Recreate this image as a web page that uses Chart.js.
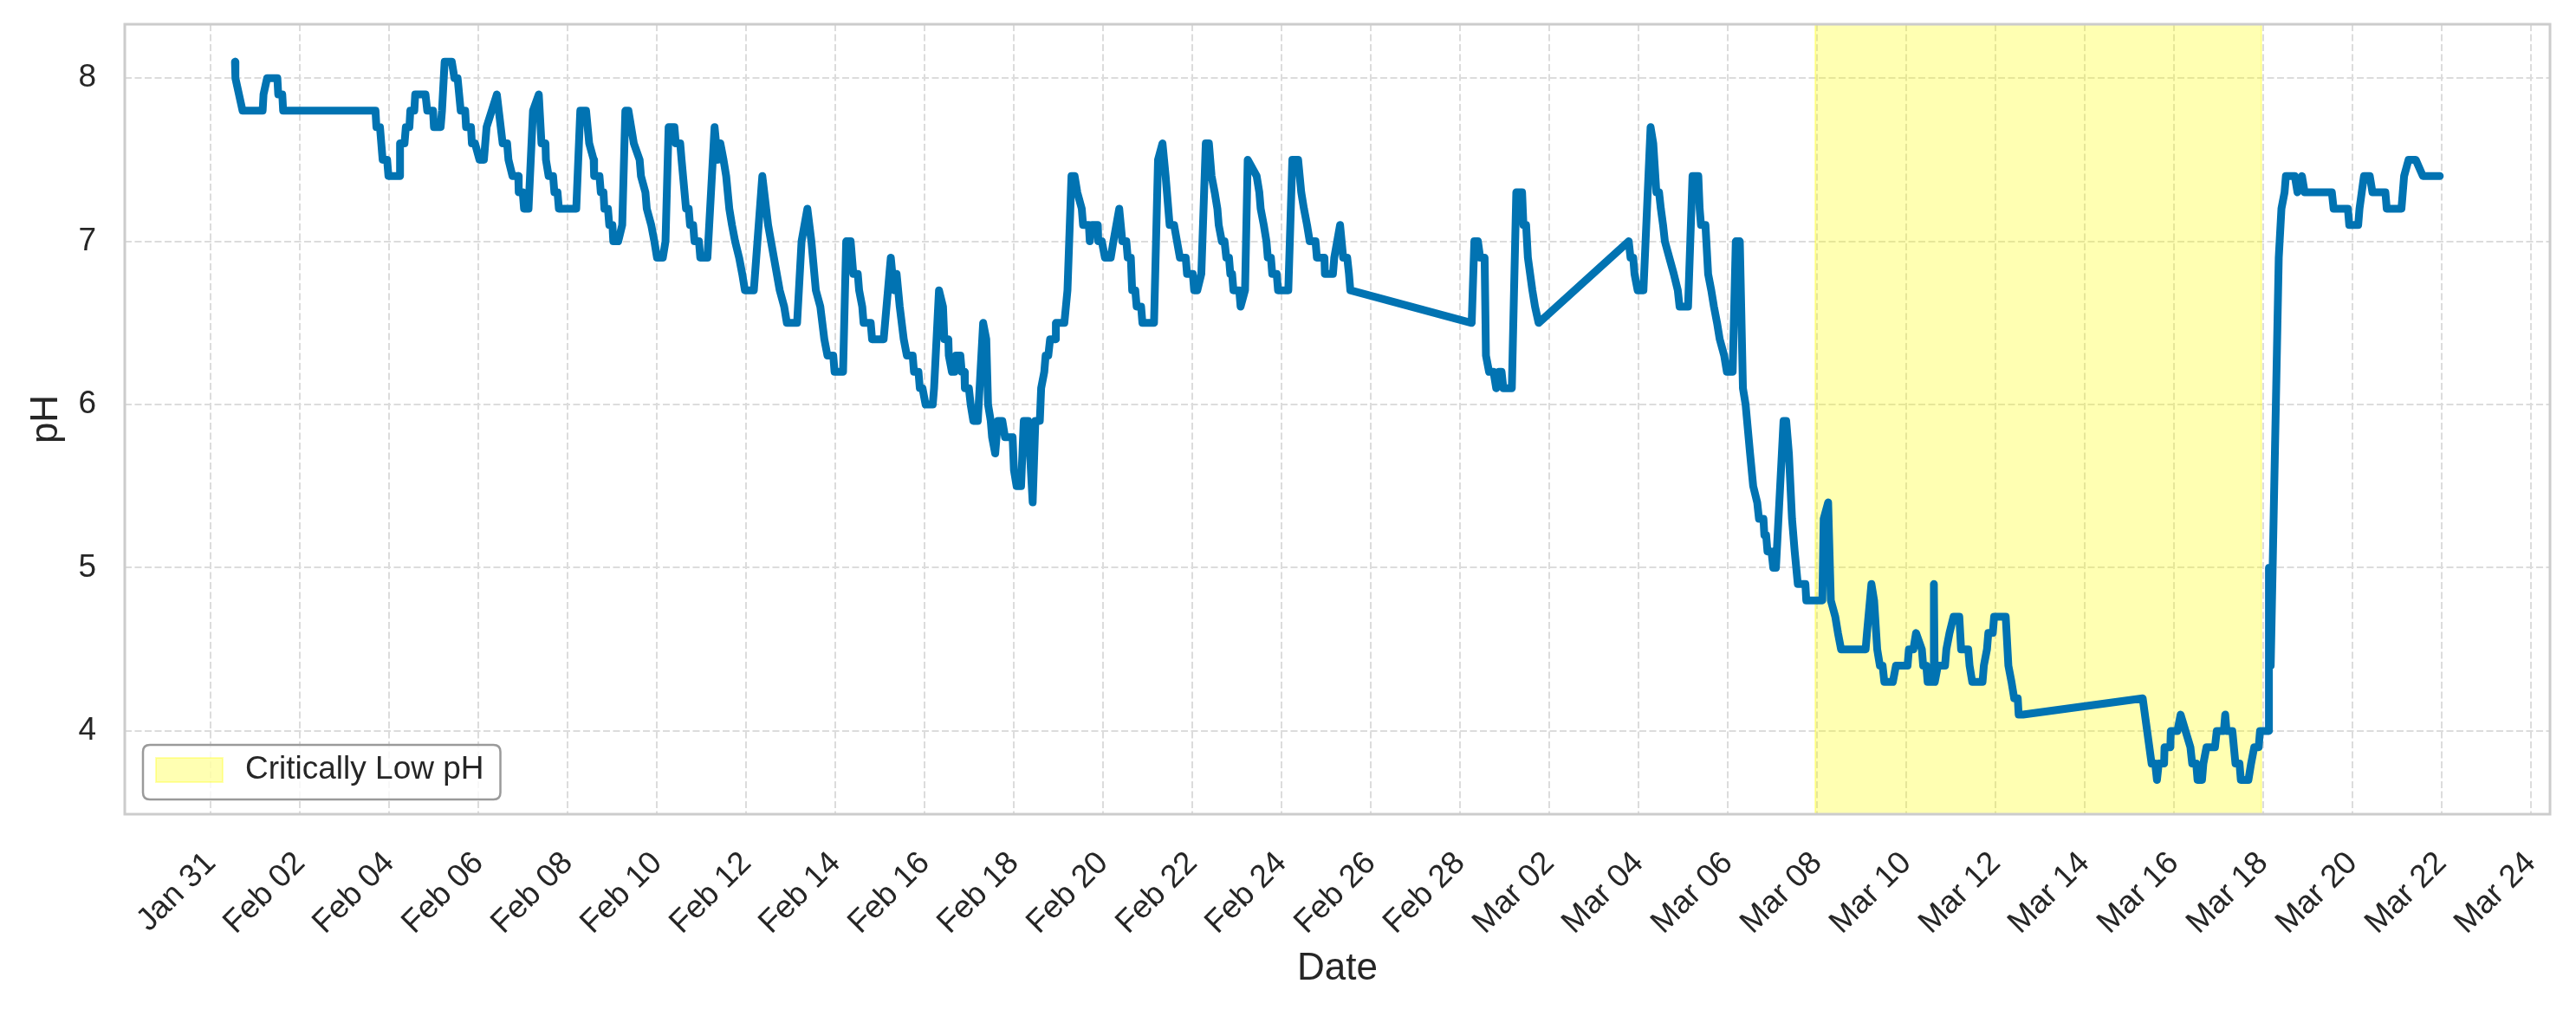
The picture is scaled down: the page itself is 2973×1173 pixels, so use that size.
<!DOCTYPE html>
<html lang="en">
<head>
<meta charset="UTF-8">
<title>pH over time</title>
<script src="https://cdn.jsdelivr.net/npm/chart.js"></script>
<style>
  html, body { margin: 0; padding: 0; background: #fff; }
  canvas { display: block; }
</style>
</head>
<body>
<canvas id="phChart" width="2973" height="1173"></canvas>
<script>
// Readings: days since Jan 31 and the pH read at that time
const sampleDays = [
  0.54, 0.55, 0.71, 1.16, 1.18, 1.26, 1.49, 1.51, 1.60, 1.62, 3.69, 3.71, 3.79, 3.82, 3.85, 3.95, 3.98, 4.23, 4.24, 4.34,
  4.37, 4.45, 4.47, 4.56, 4.58, 4.81, 4.85, 4.98, 5.00, 5.15, 5.18, 5.24, 5.40, 5.46, 5.53, 5.60, 5.70, 5.72, 5.83, 5.85,
  5.92, 6.02, 6.12, 6.18, 6.41, 6.54, 6.64, 6.67, 6.76, 6.89, 6.90, 6.99, 7.02, 7.12, 7.22, 7.35, 7.41, 7.50, 7.51, 7.57,
  7.67, 7.70, 7.77, 7.80, 8.19, 8.28, 8.41, 8.48, 8.58, 8.59, 8.71, 8.74, 8.80, 8.82, 8.90, 8.93, 9.00, 9.02, 9.13, 9.22,
  9.29, 9.36, 9.48, 9.61, 9.64, 9.74, 9.77, 9.87, 9.94, 10.00, 10.13, 10.19, 10.26, 10.39, 10.42, 10.52, 10.55, 10.65, 10.71, 10.74,
  10.81, 10.84, 10.94, 10.97, 11.13, 11.29, 11.36, 11.42, 11.49, 11.55, 11.62, 11.68, 11.75, 11.84, 11.91, 11.97, 12.17, 12.36, 12.49, 12.62,
  12.75, 12.85, 12.91, 13.14, 13.24, 13.37, 13.46, 13.56, 13.66, 13.75, 13.82, 13.95, 13.98, 14.17, 14.24, 14.34, 14.40, 14.50, 14.53, 14.60,
  14.63, 14.79, 14.82, 15.08, 15.24, 15.31, 15.37, 15.44, 15.53, 15.60, 15.73, 15.76, 15.86, 15.89, 15.95, 16.02, 16.18, 16.21, 16.32, 16.41,
  16.44, 16.53, 16.54, 16.61, 16.67, 16.70, 16.80, 16.83, 16.89, 16.90, 16.99, 17.03, 17.09, 17.19, 17.31, 17.38, 17.42, 17.48, 17.51, 17.58,
  17.64, 17.74, 17.80, 17.97, 18.00, 18.06, 18.16, 18.22, 18.32, 18.42, 18.48, 18.58, 18.61, 18.68, 18.71, 18.77, 18.81, 18.93, 18.94, 19.13,
  19.20, 19.29, 19.36, 19.42, 19.52, 19.55, 19.68, 19.70, 19.75, 19.88, 19.89, 19.97, 20.04, 20.17, 20.23, 20.36, 20.43, 20.52, 20.55, 20.62,
  20.65, 20.72, 20.75, 20.85, 20.88, 21.14, 21.23, 21.33, 21.40, 21.49, 21.59, 21.72, 21.85, 21.88, 22.01, 22.04, 22.11, 22.20, 22.30, 22.37,
  22.43, 22.50, 22.56, 22.59, 22.66, 22.72, 22.76, 22.82, 22.85, 22.89, 22.92, 23.05, 23.08, 23.18, 23.24, 23.44, 23.50, 23.53, 23.60, 23.66,
  23.69, 23.76, 23.79, 23.89, 23.92, 24.15, 24.24, 24.37, 24.44, 24.50, 24.57, 24.63, 24.76, 24.79, 24.96, 24.97, 25.15, 25.18, 25.31, 25.38,
  25.47, 25.51, 25.54, 28.26, 28.32, 28.40, 28.45, 28.55, 28.58, 28.65, 28.75, 28.81, 28.87, 28.93, 28.97, 29.16, 29.26, 29.39, 29.42, 29.48,
  29.52, 29.62, 29.68, 29.76, 31.78, 31.82, 31.88, 31.91, 31.98, 32.11, 32.27, 32.33, 32.40, 32.46, 32.50, 32.55, 32.59, 32.69, 32.79, 32.88,
  32.92, 33.11, 33.21, 33.34, 33.37, 33.40, 33.50, 33.56, 33.63, 33.69, 33.76, 33.82, 33.92, 33.98, 34.11, 34.18, 34.27, 34.34, 34.40, 34.50,
  34.57, 34.66, 34.70, 34.80, 34.82, 34.86, 34.89, 34.98, 35.02, 35.08, 35.25, 35.31, 35.37, 35.44, 35.50, 35.57, 35.74, 35.76, 36.12, 36.15,
  36.25, 36.31, 36.41, 36.47, 36.54, 37.09, 37.12, 37.22, 37.28, 37.35, 37.41, 37.47, 37.51, 37.70, 37.77, 38.03, 38.06, 38.16, 38.22, 38.35,
  38.38, 38.45, 38.48, 38.61, 38.62, 38.64, 38.71, 38.87, 38.90, 38.97, 39.06, 39.19, 39.23, 39.39, 39.42, 39.48, 39.71, 39.74, 39.81, 39.84,
  39.94, 39.97, 40.23, 40.29, 40.36, 40.42, 40.50, 40.52, 40.62, 43.30, 43.50, 43.58, 43.62, 43.66, 43.78, 43.79, 43.92, 43.93, 44.08, 44.15,
  44.37, 44.41, 44.50, 44.53, 44.63, 44.66, 44.73, 44.92, 44.96, 45.12, 45.15, 45.18, 45.31, 45.38, 45.47, 45.50, 45.67, 45.73, 45.80, 45.90,
  45.93, 46.12, 46.13, 46.17, 46.35, 46.41, 46.48, 46.51, 46.71, 46.77, 46.87, 46.93, 47.54, 47.58, 47.90, 47.93, 48.13, 48.16, 48.26, 48.39,
  48.45, 48.74, 48.77, 49.10, 49.13, 49.16, 49.26, 49.42, 49.58, 49.96
];
const phValues = [
  8.1, 8.0, 7.8, 7.8, 7.9, 8.0, 8.0, 7.9, 7.9, 7.8, 7.8, 7.7, 7.7, 7.6, 7.5, 7.5, 7.4, 7.4, 7.6, 7.6,
  7.7, 7.7, 7.8, 7.8, 7.9, 7.9, 7.8, 7.8, 7.7, 7.7, 7.8, 8.1, 8.1, 8.0, 8.0, 7.8, 7.8, 7.7, 7.7, 7.6,
  7.6, 7.5, 7.5, 7.7, 7.9, 7.6, 7.6, 7.5, 7.4, 7.4, 7.3, 7.3, 7.2, 7.2, 7.8, 7.9, 7.6, 7.6, 7.5, 7.4,
  7.4, 7.3, 7.3, 7.2, 7.2, 7.8, 7.8, 7.6, 7.5, 7.4, 7.4, 7.3, 7.3, 7.2, 7.2, 7.1, 7.1, 7.0, 7.0, 7.1,
  7.8, 7.8, 7.6, 7.5, 7.4, 7.3, 7.2, 7.1, 7.0, 6.9, 6.9, 7.0, 7.7, 7.7, 7.6, 7.6, 7.5, 7.2, 7.2, 7.1,
  7.1, 7.0, 7.0, 6.9, 6.9, 7.7, 7.5, 7.6, 7.5, 7.4, 7.2, 7.1, 7.0, 6.9, 6.8, 6.7, 6.7, 7.4, 7.1, 6.9,
  6.7, 6.6, 6.5, 6.5, 7.0, 7.2, 7.0, 6.7, 6.6, 6.4, 6.3, 6.3, 6.2, 6.2, 7.0, 7.0, 6.8, 6.8, 6.7, 6.6,
  6.5, 6.5, 6.4, 6.4, 6.9, 6.7, 6.8, 6.6, 6.4, 6.3, 6.3, 6.2, 6.2, 6.1, 6.1, 6.0, 6.0, 6.1, 6.7, 6.6,
  6.4, 6.4, 6.3, 6.2, 6.2, 6.3, 6.3, 6.2, 6.2, 6.1, 6.1, 6.0, 5.9, 5.9, 6.5, 6.4, 6.0, 5.9, 5.8, 5.7,
  5.9, 5.9, 5.8, 5.8, 5.6, 5.5, 5.5, 5.9, 5.9, 5.4, 5.9, 5.9, 6.1, 6.2, 6.3, 6.3, 6.4, 6.4, 6.5, 6.5,
  6.7, 7.4, 7.4, 7.3, 7.2, 7.1, 7.1, 7.0, 7.1, 7.1, 7.0, 7.0, 6.9, 6.9, 7.0, 7.2, 7.0, 7.0, 6.9, 6.9,
  6.7, 6.7, 6.6, 6.6, 6.5, 6.5, 7.5, 7.6, 7.4, 7.1, 7.1, 6.9, 6.9, 6.8, 6.8, 6.7, 6.7, 6.8, 7.6, 7.6,
  7.4, 7.3, 7.2, 7.1, 7.0, 7.0, 6.9, 6.9, 6.8, 6.8, 6.7, 6.7, 6.6, 6.7, 7.5, 7.4, 7.3, 7.2, 7.1, 7.0,
  6.9, 6.9, 6.8, 6.8, 6.7, 6.7, 7.5, 7.5, 7.3, 7.2, 7.1, 7.0, 7.0, 6.9, 6.9, 6.8, 6.8, 6.9, 7.1, 6.9,
  6.9, 6.8, 6.7, 6.5, 7.0, 7.0, 6.9, 6.9, 6.3, 6.2, 6.2, 6.1, 6.2, 6.2, 6.1, 6.1, 7.3, 7.3, 7.1, 7.1,
  6.9, 6.7, 6.6, 6.5, 7.0, 6.9, 6.9, 6.8, 6.7, 6.7, 7.7, 7.6, 7.3, 7.3, 7.2, 7.1, 7.0, 6.9, 6.8, 6.7,
  6.6, 6.6, 7.4, 7.4, 7.2, 7.1, 7.1, 6.8, 6.7, 6.6, 6.5, 6.4, 6.3, 6.2, 6.2, 7.0, 7.0, 6.1, 6.0, 5.7,
  5.5, 5.4, 5.3, 5.3, 5.2, 5.2, 5.1, 5.1, 5.0, 5.0, 5.9, 5.9, 5.7, 5.3, 5.1, 4.9, 4.9, 4.8, 4.8, 5.3,
  5.4, 4.8, 4.7, 4.6, 4.5, 4.5, 4.6, 4.9, 4.8, 4.5, 4.4, 4.4, 4.3, 4.3, 4.4, 4.4, 4.5, 4.5, 4.6, 4.5,
  4.4, 4.4, 4.3, 4.3, 4.9, 4.3, 4.4, 4.4, 4.5, 4.6, 4.7, 4.7, 4.5, 4.5, 4.4, 4.3, 4.3, 4.4, 4.5, 4.6,
  4.6, 4.7, 4.7, 4.4, 4.3, 4.2, 4.2, 4.1, 4.1, 4.2, 3.8, 3.8, 3.7, 3.8, 3.8, 3.9, 3.9, 4.0, 4.0, 4.1,
  3.9, 3.8, 3.8, 3.7, 3.7, 3.8, 3.9, 3.9, 4.0, 4.0, 4.1, 4.0, 4.0, 3.8, 3.8, 3.7, 3.7, 3.8, 3.9, 3.9,
  4.0, 4.0, 5.0, 4.4, 6.9, 7.2, 7.3, 7.4, 7.4, 7.3, 7.4, 7.3, 7.3, 7.2, 7.2, 7.1, 7.1, 7.2, 7.4, 7.4,
  7.3, 7.3, 7.2, 7.2, 7.3, 7.4, 7.5, 7.5, 7.4, 7.4
];

// x ticks every two days from Jan 31
const tickDays = [0, 2, 4, 6, 8, 10, 12, 14, 16, 18, 20, 22, 24, 26, 28, 30, 32, 34, 36, 38, 40, 42, 44, 46, 48, 50, 52];
const tickLabels = ['Jan 31', 'Feb 02', 'Feb 04', 'Feb 06', 'Feb 08', 'Feb 10', 'Feb 12', 'Feb 14', 'Feb 16',
  'Feb 18', 'Feb 20', 'Feb 22', 'Feb 24', 'Feb 26', 'Feb 28', 'Mar 02', 'Mar 04', 'Mar 06', 'Mar 08',
  'Mar 10', 'Mar 12', 'Mar 14', 'Mar 16', 'Mar 18', 'Mar 20', 'Mar 22', 'Mar 24'];
const phTicks = [4, 5, 6, 7, 8];

// Critically low period (start, end) in days since Jan 31
const lowPhSpan = [35.96, 45.96];
const legendLabel = 'Critically Low pH';

const FONT = "'Liberation Sans', Arial, Helvetica, sans-serif";
const TEXT = '#262626';
const YELLOW = 'rgba(255, 255, 0, 0.3)';

// yellow band behind the line
const spanPlugin = {
  id: 'lowPhSpan',
  beforeDatasetsDraw(chart) {
    const { ctx, chartArea: a, scales: { x } } = chart;
    const x0 = x.getPixelForValue(lowPhSpan[0]);
    const x1 = x.getPixelForValue(lowPhSpan[1]);
    ctx.save();
    ctx.fillStyle = YELLOW;
    ctx.fillRect(x0, a.top, x1 - x0, a.bottom - a.top);
    ctx.strokeStyle = YELLOW;
    ctx.lineWidth = 2;
    ctx.strokeRect(x0, a.top, x1 - x0, a.bottom - a.top);
    ctx.restore();
  }
};

// light grey box around the plot
const framePlugin = {
  id: 'frame',
  afterDatasetsDraw(chart) {
    const { ctx, chartArea: a } = chart;
    ctx.save();
    ctx.strokeStyle = '#cccccc';
    ctx.lineWidth = 3;
    ctx.strokeRect(a.left, a.top, a.right - a.left, a.bottom - a.top);
    ctx.restore();
  }
};

// legend in the lower left corner, inside the plot
const legendPlugin = {
  id: 'cornerLegend',
  afterDraw(chart) {
    const { ctx, chartArea: a } = chart;
    ctx.save();
    ctx.font = '37px ' + FONT;
    const tw = ctx.measureText(legendLabel).width;
    const fh = 63;
    const fx = a.left + 21;
    const fy = a.bottom - 17 - fh;
    const fw = 15 + 77 + 26 + tw + 19;
    const r = 8;
    ctx.beginPath();
    ctx.moveTo(fx + r, fy);
    ctx.lineTo(fx + fw - r, fy);
    ctx.quadraticCurveTo(fx + fw, fy, fx + fw, fy + r);
    ctx.lineTo(fx + fw, fy + fh - r);
    ctx.quadraticCurveTo(fx + fw, fy + fh, fx + fw - r, fy + fh);
    ctx.lineTo(fx + r, fy + fh);
    ctx.quadraticCurveTo(fx, fy + fh, fx, fy + fh - r);
    ctx.lineTo(fx, fy + r);
    ctx.quadraticCurveTo(fx, fy, fx + r, fy);
    ctx.closePath();
    ctx.fillStyle = 'rgba(255, 255, 255, 0.8)';
    ctx.fill();
    ctx.strokeStyle = '#9a9a9a';
    ctx.lineWidth = 2.5;
    ctx.stroke();

    const px = fx + 15, py = fy + 15;
    ctx.fillStyle = YELLOW;
    ctx.fillRect(px, py, 77, 28);
    ctx.strokeStyle = YELLOW;
    ctx.lineWidth = 2;
    ctx.strokeRect(px, py, 77, 28);

    ctx.fillStyle = TEXT;
    ctx.textAlign = 'left';
    ctx.textBaseline = 'middle';
    ctx.fillText(legendLabel, px + 77 + 26, py + 14);
    ctx.restore();
  }
};

Chart.defaults.font.family = FONT;
Chart.defaults.color = TEXT;

new Chart(document.getElementById('phChart'), {
  type: 'line',
  data: {
    datasets: [{
      label: 'pH',
      data: sampleDays.map((d, i) => ({ x: d, y: phValues[i] })),
      borderColor: '#0173b2',
      backgroundColor: '#0173b2',
      borderWidth: 9,
      borderJoinStyle: 'round',
      borderCapStyle: 'round',
      pointRadius: 0,
      tension: 0,
      fill: false
    }]
  },
  options: {
    responsive: false,
    animation: false,
    devicePixelRatio: 1,
    layout: { padding: { left: 0, right: 30, top: 28, bottom: 0 } },
    plugins: {
      legend: { display: false },
      tooltip: { enabled: false }
    },
    scales: {
      x: {
        type: 'linear',
        bounds: 'data',
        min: -1.93,
        max: 52.43,
        afterBuildTicks: s => { s.ticks = tickDays.map(v => ({ value: v })); },
        afterFit: s => { s.height = 233; s.paddingLeft = 0; s.paddingRight = 0; },
        ticks: {
          autoSkip: false,
          maxRotation: 45,
          minRotation: 45,
          padding: 35,
          color: TEXT,
          font: { size: 37 },
          callback: (v, i) => tickLabels[i]
        },
        grid: { color: '#dcdcdc', lineWidth: 2, drawTicks: false },
        border: { display: false, dash: [8, 3.5] },
        title: { display: true, text: 'Date', color: TEXT, font: { size: 44 }, padding: { top: 0, bottom: 28 } }
      },
      y: {
        type: 'linear',
        bounds: 'data',
        min: 3.49,
        max: 8.33,
        afterBuildTicks: s => { s.ticks = phTicks.map(v => ({ value: v })); },
        afterFit: s => { s.width = 144; s.paddingTop = 0; s.paddingBottom = 0; },
        ticks: {
          padding: 33,
          color: TEXT,
          font: { size: 37 },
          callback: v => String(v)
        },
        grid: { color: '#dcdcdc', lineWidth: 2, drawTicks: false },
        border: { display: false, dash: [8, 3.5] },
        title: { display: true, text: 'pH', color: TEXT, font: { size: 44 }, padding: { top: 27, bottom: 0 } }
      }
    }
  },
  plugins: [spanPlugin, framePlugin, legendPlugin]
});
</script>
</body>
</html>
